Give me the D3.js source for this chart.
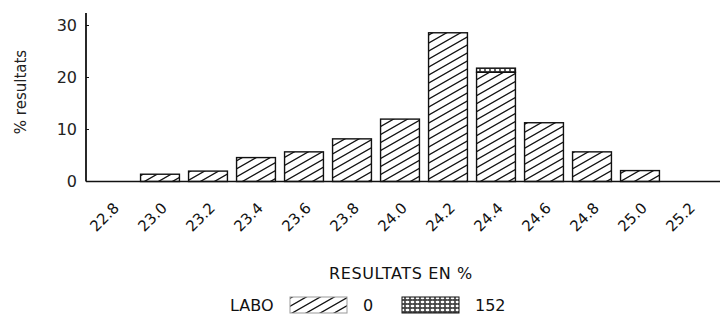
<!DOCTYPE html>
<html><head><meta charset="utf-8">
<script src="https://cdn.jsdelivr.net/npm/d3@7"></script>
<style>body{margin:0;background:#fff}svg{display:block}</style>
</head><body>
<svg id="c" width="720" height="327"></svg>
<script>
const categories = ["22.8","23.0","23.2","23.4","23.6","23.8","24.0","24.2","24.4","24.6","24.8","25.0","25.2"];
const lab0 = [0,1.4,2.0,4.6,5.7,8.2,12.0,28.6,21.0,11.3,5.7,2.1,0];
const lab152 = [0,0,0,0,0,0,0,0,0.8,0,0,0,0];
const yTicks = [0,10,20,30];
const seriesNames = ["0","152"];

const svg = d3.select("#c");
const defs = svg.append("defs");
const hatch = defs.append("pattern").attr("id","hatch").attr("patternUnits","userSpaceOnUse")
  .attr("width",14).attr("height",8);
hatch.append("rect").attr("width",14).attr("height",8).attr("fill","#fff");
hatch.append("path").attr("d","M-14,8 L14,-8 M0,8 L14,0 M-14,16 L14,0 M0,16 L28,0").attr("stroke","#111").attr("stroke-width",1.3);
const dots = defs.append("pattern").attr("id","dots").attr("patternUnits","userSpaceOnUse")
  .attr("width",5).attr("height",4);
dots.append("rect").attr("width",5).attr("height",4).attr("fill","#444");
dots.append("ellipse").attr("cx",2.5).attr("cy",2).attr("rx",1.9).attr("ry",1.3).attr("fill","#fff");

const x = d3.scaleBand().domain(categories).range([88,712]).paddingInner(0.19).paddingOuter(0.095);
const y = d3.scaleLinear().domain([0,30]).range([181.5,25.5]);

// bars
const fills = ["url(#hatch)","url(#dots)"];
const stackData = categories.map((c,i)=>({c, s0:lab0[i], s1:lab152[i]}));
const stack = d3.stack().keys(["s0","s1"])(stackData);
stack.forEach((layer,k)=>{
  svg.append("g").selectAll("rect").data(layer.filter(d=>d[1]-d[0]>0)).join("rect")
    .attr("x",d=>x(d.data.c)).attr("width",x.bandwidth())
    .attr("y",d=>y(d[1])).attr("height",d=>y(d[0])-y(d[1]))
    .attr("fill",fills[k]).attr("stroke","#111").attr("stroke-width",1.4);
});

// axes
svg.append("line").attr("x1",86).attr("x2",720).attr("y1",y(0)).attr("y2",y(0)).attr("stroke","#111").attr("stroke-width",1.6);
svg.append("line").attr("x1",86).attr("x2",86).attr("y1",13).attr("y2",y(0)).attr("stroke","#111").attr("stroke-width",1.8);
const font = "'DejaVu Sans', sans-serif";
svg.append("g").selectAll("text").data(yTicks).join("text")
  .attr("x",77).attr("y",d=>y(d)).attr("dy","0.36em").attr("text-anchor","end")
  .attr("font-family",font).attr("font-size",16).attr("fill","#222").text(d=>d);
svg.append("g").selectAll("line").data(yTicks).join("line")
  .attr("x1",86).attr("x2",89).attr("y1",d=>y(d)).attr("y2",d=>y(d)).attr("stroke","#111");

svg.append("g").selectAll("text").data(categories).join("text")
  .attr("text-anchor","end")
  .attr("transform",d=>`translate(${x(d)+x.bandwidth()/2},${201}) rotate(-45)`)
  .attr("dy","0.75em")
  .attr("font-family",font).attr("font-size",15).attr("fill","#111").text(d=>d);

svg.append("text").attr("transform","translate(26,92) rotate(-90)").attr("text-anchor","middle")
  .attr("font-family",font).attr("font-size",15).attr("fill","#222").text("% resultats");

svg.append("text").attr("x",401).attr("y",279).attr("text-anchor","middle")
  .attr("font-family",font).attr("font-size",16).attr("fill","#111").attr("letter-spacing",0.6).text("RESULTATS EN %");

// legend
svg.append("text").attr("x",230).attr("y",311).attr("font-family",font).attr("font-size",16).attr("fill","#111").text("LABO");
const legX = [290,402];
seriesNames.forEach((n,k)=>{
  svg.append("rect").attr("x",legX[k]).attr("y",297).attr("width",57).attr("height",16)
    .attr("fill",fills[k]).attr("stroke", k? "#111":"#999").attr("stroke-width",1);
  svg.append("text").attr("x",legX[k]+73).attr("y",311).attr("font-family",font).attr("font-size",16).attr("fill","#111").text(n);
});
</script>
</body></html>
